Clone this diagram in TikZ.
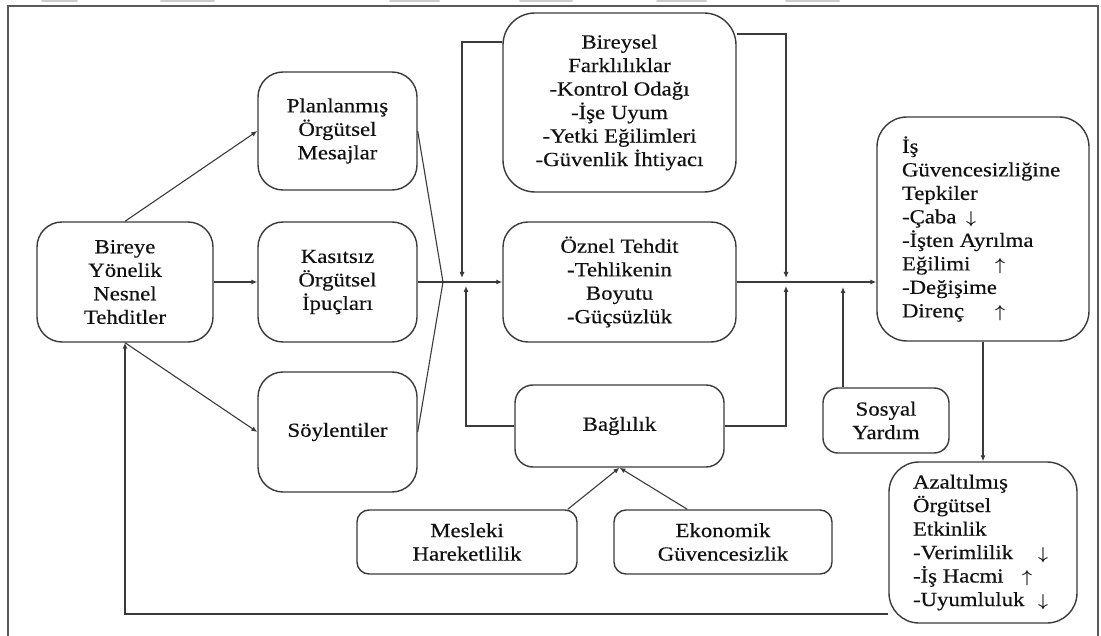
\documentclass[tikz,border=0pt]{standalone}
\usepackage{fontspec}
\setmainfont{Liberation Serif}[FakeStretch=1.14,FakeBold=0.4]
\usepackage{bm}
\usetikzlibrary{arrows.meta}
\definecolor{lncol}{HTML}{3A3A3A}
\definecolor{txcol}{HTML}{111111}
\newcommand{\dnarr}{{\fontsize{16}{16}\selectfont$\bm{\downarrow}$}}
\newcommand{\uparr}{{\fontsize{16}{16}\selectfont$\bm{\uparrow}$}}
\newcommand{\leftblock}[2]{\parbox{#1}{\raggedright #2}}
\tikzset{
  box/.style={draw=lncol, line width=1.4pt, rounded corners=#1, align=center,
    inner sep=0pt, text=txcol, font=\fontsize{20}{23.5}\selectfont},
  box/.default=25pt,
  arr/.style={draw=lncol, line width=1.1pt, -{Latex[length=6pt,width=5pt]}},
  link/.style={draw=lncol, line width=1.1pt},
  frame/.style={draw=black!65, line width=1.5pt},
  tab/.style={draw=black!20, line width=2pt, line cap=round},
}
\begin{document}
\begin{tikzpicture}[x=1pt,y=-1pt]
\useasboundingbox (0,0) rectangle (1101,636);
% top fragments
\draw[tab] (42,1) -- (77,1);
\draw[tab] (161,1) -- (214,1);
\draw[tab] (390,1) -- (439,1);
\draw[tab] (520,1) -- (572,1);
\draw[tab] (657,1) -- (706,1);
\draw[tab] (786,1) -- (839,1);
% frame
\draw[frame] (8,636) -- (8,6) -- (1098,6) -- (1098,636);

% nodes
\node[box=25pt, minimum width=176pt, minimum height=120pt] (bireye) at (125,282)
  {Bireye\\Yönelik\\Nesnel\\Tehditler};
\node[box=25pt, minimum width=159pt, minimum height=118pt] (plan) at (337.5,131)
  {Planlanmış\\Örgütsel\\Mesajlar};
\node[box=25pt, minimum width=159pt, minimum height=120pt] (kasit) at (337.5,282)
  {Kasıtsız\\Örgütsel\\İpuçları};
\node[box=25pt, minimum width=159pt, minimum height=120pt] (soy) at (337.5,432)
  {Söylentiler};
\node[box=32pt, minimum width=233pt, minimum height=179pt] (birey) at (619.5,102.5)
  {Bireysel\\Farklılıklar\\-Kontrol Odağı\\-İşe Uyum\\-Yetki Eğilimleri\\-Güvenlik İhtiyacı};
\node[box=25pt, minimum width=233pt, minimum height=120pt] (oznel) at (619.5,282)
  {Öznel Tehdit\\-Tehlikenin\\Boyutu\\-Güçsüzlük};
\node[box=18pt, minimum width=209pt, minimum height=82pt] (bag) at (619.5,426)
  {Bağlılık};
\node[box=12pt, minimum width=220pt, minimum height=64pt] (mes) at (467,542)
  {Mesleki\\Hareketlilik};
\node[box=12pt, minimum width=218pt, minimum height=64pt] (eko) at (723,542)
  {Ekonomik\\Güvencesizlik};
\node[box=15pt, minimum width=126pt, minimum height=65pt] (sos) at (886,420.5)
  {Sosyal\\Yardım};
\node[box=30pt, minimum width=212pt, minimum height=224pt] (guv) at (983,229)
  {\leftblock{162pt}{İş\\Güvencesizliğine\\Tepkiler\\\makebox[64pt][l]{-Çaba}\dnarr\\-İşten Ayrılma\\\makebox[93pt][l]{Eğilimi}\uparr\\-Değişime\\\makebox[93pt][l]{Direnç}\uparr}};
\node[box=30pt, minimum width=188pt, minimum height=161pt] (azal) at (983,542.5)
  {\leftblock{140pt}{Azaltılmış\\Örgütsel\\Etkinlik\\\makebox[125pt][l]{-Verimlilik}\dnarr\\\makebox[109pt][l]{-İş Hacmi}\uparr\\\makebox[125pt][l]{-Uyumluluk}\dnarr}};

% junction coordinates
\coordinate (conv) at (443,282);
\coordinate (jl1) at (462,282);
\coordinate (jl2) at (466,282);
\coordinate (jr) at (786,282);
\coordinate (js) at (843,282);

% connectors
\draw[arr] (bireye.north) -- (plan.west);
\draw[arr] (bireye.east) -- (kasit.west);
\draw[arr] (bireye.south) -- (soy.west);
\draw[link] (plan.east) -- (conv);
\draw[link] (soy.east) -- (conv);
\draw[arr] (kasit.east) -- (oznel.west);
\draw[arr, shorten >=4pt] (birey.west |- 0,42) -| (jl1);
\draw[arr, shorten >=4pt] (bag.west) -| (jl2);
\draw[arr, shorten >=4pt] (birey.east |- 0,34) -| (jr);
\draw[arr, shorten >=4pt] (bag.east) -| (jr);
\draw[arr, shorten >=5pt] (js |- sos.north) -- (js);
\draw[arr] (oznel.east) -- (guv.west |- oznel.east);
\draw[arr] (guv.south) -- (azal.north);
\draw[arr] (azal.west |- 0,614) -| (bireye.south);
\draw[arr] ([xshift=-10pt]mes.north east) -- (bag.south);
\draw[arr] ([xshift=74pt]eko.north west) -- (bag.south);
\end{tikzpicture}
\end{document}
